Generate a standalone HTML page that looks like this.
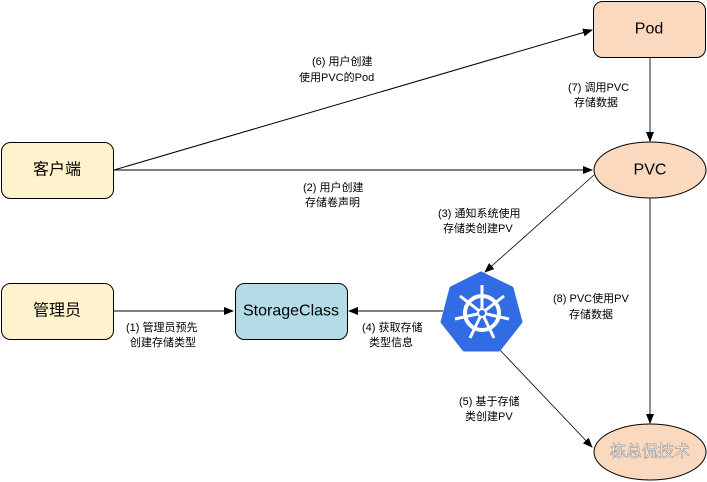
<!DOCTYPE html>
<html><head><meta charset="utf-8"><style>
html,body{margin:0;padding:0;background:#fff;}
svg{display:block;}
text{font-family:"Liberation Sans","Noto Sans CJK SC",sans-serif;}
.l{font-size:11px;fill:#000;}
.n{font-size:16px;fill:#000;text-anchor:middle;dominant-baseline:central;}
</style></head><body>
<svg width="707" height="482" viewBox="0 0 707 482" xmlns="http://www.w3.org/2000/svg">
<defs>
<marker id="a" markerWidth="10" markerHeight="10" refX="9" refY="5" orient="auto" markerUnits="userSpaceOnUse"><path d="M0,1 L10,5 L0,9 Z" fill="#000"/></marker>
</defs>
<!-- edges -->
<line x1="114" y1="170" x2="592" y2="30" stroke="#000" marker-end="url(#a)"/>
<line x1="114" y1="170" x2="592" y2="170" stroke="#000" marker-end="url(#a)"/>
<line x1="650" y1="57" x2="650" y2="141" stroke="#555" stroke-width="1.3" marker-end="url(#a)"/>
<line x1="594" y1="175" x2="485" y2="272" stroke="#000" stroke-width="0.8" marker-end="url(#a)"/>
<line x1="650" y1="198" x2="650" y2="423" stroke="#555" stroke-width="1.3" marker-end="url(#a)"/>
<line x1="114" y1="311" x2="233" y2="311" stroke="#000" marker-end="url(#a)"/>
<line x1="443" y1="311" x2="349" y2="311" stroke="#000" marker-end="url(#a)"/>
<line x1="499" y1="349" x2="592" y2="447" stroke="#000" stroke-width="0.8" marker-end="url(#a)"/>
<!-- nodes -->
<rect x="593.5" y="1.5" width="112" height="56" rx="9" fill="#fad9bf" stroke="#000"/>
<text class="n" x="649" y="29">Pod</text>
<rect x="1.5" y="142.5" width="112" height="56" rx="9" fill="#fff2cc" stroke="#000"/>
<text class="n" x="57" y="170">客户端</text>
<ellipse cx="650" cy="170" rx="56" ry="28" fill="#fad9bf" stroke="#000"/>
<text class="n" x="650" y="170">PVC</text>
<rect x="1.5" y="283.5" width="112" height="56" rx="9" fill="#fff2cc" stroke="#000"/>
<text class="n" x="57" y="311">管理员</text>
<rect x="235.5" y="283.5" width="112" height="56" rx="9" fill="#b3dce6" stroke="#000"/>
<text class="n" x="291" y="311">StorageClass</text>
<ellipse cx="650" cy="452" rx="56" ry="28" fill="#fad9bf" stroke="#000"/>
<text class="n" x="650" y="452" style="fill:#fff;stroke:#888;stroke-width:0.5">栋总侃技术</text>
<!-- k8s -->
<polygon points="481,273 512,288 521,322 499,350 464,350 442,322 451,288" fill="#326ce5" stroke="#326ce5" stroke-width="3" stroke-linejoin="round"/>
<g stroke="#fff" fill="none">
<circle cx="482" cy="313" r="17" stroke-width="4"/>
<g stroke-width="3">
<line x1="482" y1="313" x2="482" y2="285"/>
<line x1="482" y1="313" x2="504" y2="296"/>
<line x1="482" y1="313" x2="509" y2="319"/>
<line x1="482" y1="313" x2="494" y2="338"/>
<line x1="482" y1="313" x2="470" y2="338"/>
<line x1="482" y1="313" x2="455" y2="319"/>
<line x1="482" y1="313" x2="460" y2="296"/>
</g></g>
<circle cx="482" cy="313" r="4" fill="#326ce5" stroke="#fff" stroke-width="2"/>
<!-- labels -->
<text class="l" x="312" y="65">(6) 用户创建</text>
<text class="l" x="299" y="81">使用PVC的Pod</text>
<text class="l" x="568" y="91">(7) 调用PVC</text>
<text class="l" x="574" y="106">存储数据</text>
<text class="l" x="303" y="191">(2) 用户创建</text>
<text class="l" x="305" y="206">存储卷声明</text>
<text class="l" x="438" y="217">(3) 通知系统使用</text>
<text class="l" x="443" y="232">存储类创建PV</text>
<text class="l" x="553" y="302">(8) PVC使用PV</text>
<text class="l" x="569" y="318">存储数据</text>
<text class="l" x="126" y="331">(1) 管理员预先</text>
<text class="l" x="130" y="346">创建存储类型</text>
<text class="l" x="362" y="331">(4) 获取存储</text>
<text class="l" x="369" y="346">类型信息</text>
<text class="l" x="459" y="405">(5) 基于存储</text>
<text class="l" x="465" y="420">类创建PV</text>
</svg>
</body></html>
